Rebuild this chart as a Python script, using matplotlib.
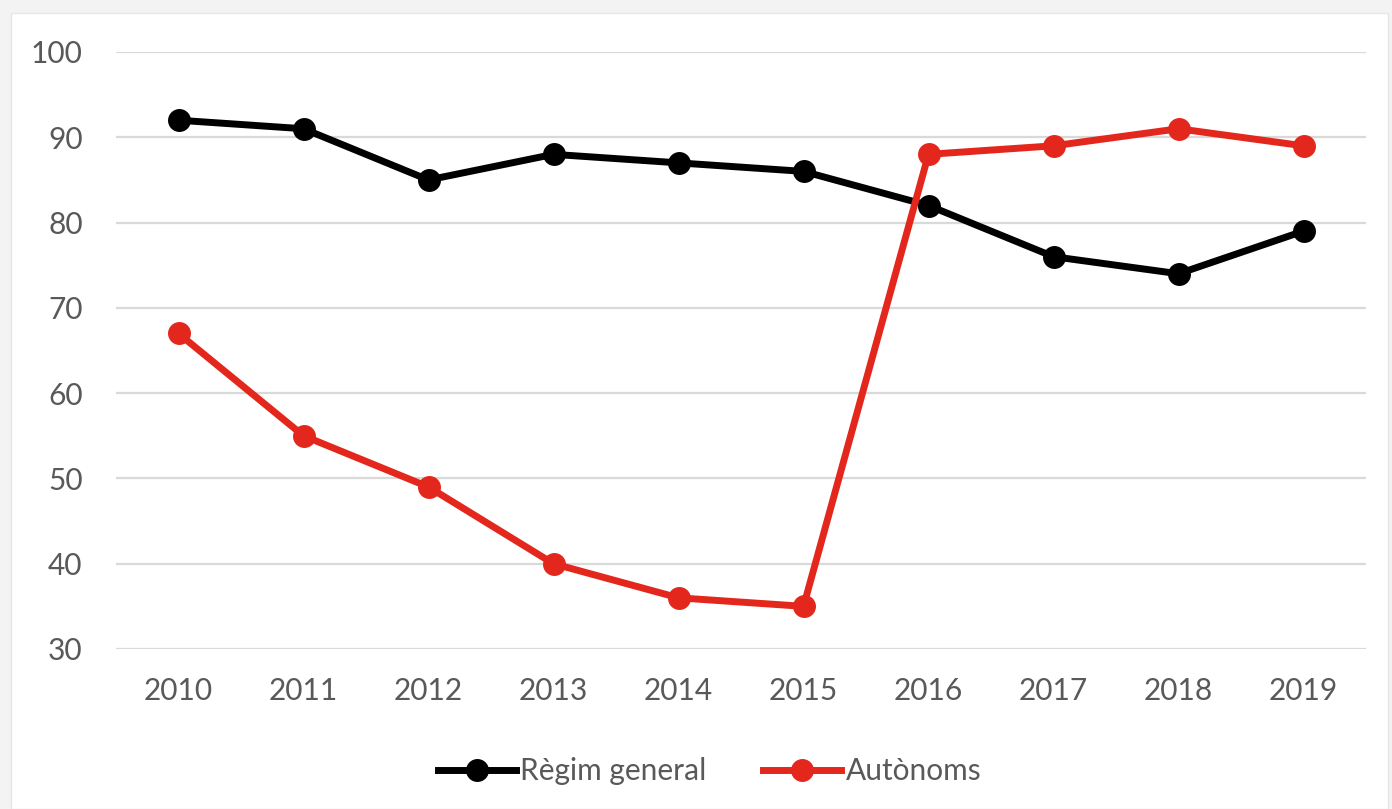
import matplotlib
matplotlib.use("Agg")
import matplotlib.pyplot as plt
from matplotlib.patches import Rectangle

# ── Data ──────────────────────────────────────────────────────────────────────
years = ["2010", "2011", "2012", "2013", "2014", "2015", "2016", "2017", "2018", "2019"]
regim_general = [92, 91, 85, 88, 87, 86, 82, 76, 74, 79]
autonoms = [67, 55, 49, 40, 36, 35, 88, 89, 91, 89]

TEXT = "#595959"
GRID = "#d9d9d9"
RED = "#e4271c"

plt.rcParams["font.family"] = ["Lato", "DejaVu Sans"]

fig = plt.figure(figsize=(13.92, 8.09), dpi=100)
fig.patch.set_facecolor("#f3f3f3")
# white chart area with thin grey margin
fig.add_artist(Rectangle((11 / 1392, 0), (1388 - 11) / 1392, 1 - 13 / 809,
                         transform=fig.transFigure, facecolor="white",
                         edgecolor="#e6e6e6", linewidth=1.0, zorder=-5))

ax = fig.add_axes([116 / 1392, 1 - 649 / 809, 1250 / 1392, (649 - 52) / 809])
ax.set_facecolor("none")
ax.set_zorder(1)

x = range(len(years))
ax.plot(x, regim_general, "o-", color="black", linewidth=5, markersize=15.5,
        label="Règim general", zorder=3)
ax.plot(x, autonoms, "o-", color=RED, linewidth=5, markersize=15.5,
        label="Autònoms", zorder=4)

ax.set_xlim(-0.5, len(years) - 0.5)
ax.set_ylim(30, 100)
ax.set_yticks(range(30, 101, 10))
ax.set_xticks(list(x))
ax.set_xticklabels(years)
ax.yaxis.grid(True, color=GRID, linewidth=1.6)
ax.set_axisbelow(True)
for s in ax.spines.values():
    s.set_visible(False)
ax.tick_params(axis="both", length=0, labelsize=21.5, colors=TEXT)
ax.tick_params(axis="x", pad=20)
ax.tick_params(axis="y", pad=24)

leg = ax.legend(loc="center", bbox_to_anchor=(0.475, -0.205), ncol=2,
                frameon=False, fontsize=21.5, handlelength=2.6,
                handletextpad=0.15, columnspacing=1.9)
for t in leg.get_texts():
    t.set_color(TEXT)

fig.savefig("out.png", dpi=100, facecolor=fig.get_facecolor())
